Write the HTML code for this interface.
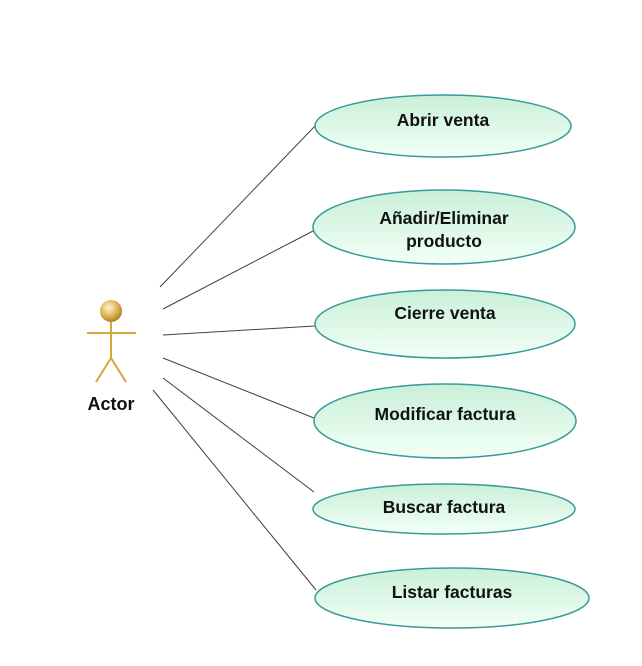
<!DOCTYPE html>
<html><head><style>body{margin:0;background:#fff}</style></head><body>
<svg width="642" height="661" xmlns="http://www.w3.org/2000/svg" font-family="Liberation Sans, sans-serif" font-weight="bold" font-size="17.5">
<defs>
<linearGradient id="g" x1="0" y1="0" x2="0" y2="1"><stop offset="0" stop-color="#c9f0d8"/><stop offset="1" stop-color="#f2fff6"/></linearGradient>
<radialGradient id="h" cx="0.4" cy="0.35" r="0.7"><stop offset="0" stop-color="#fff6d0"/><stop offset="0.6" stop-color="#d8b050"/><stop offset="1" stop-color="#a07820"/></radialGradient>
</defs>
<g stroke="#4a4030" stroke-width="1">
<line x1="160" y1="287" x2="315" y2="126"/>
<line x1="163" y1="309" x2="313" y2="231"/>
<line x1="163" y1="335" x2="315" y2="326"/>
<line x1="163" y1="358" x2="314" y2="418"/>
<line x1="163" y1="378" x2="314" y2="492"/>
<line x1="153" y1="390" x2="316" y2="590"/>
</g>
<g fill="url(#g)" stroke="#3a9a9a" stroke-width="1.5">
<ellipse cx="443" cy="126" rx="128" ry="31"/>
<ellipse cx="444" cy="227" rx="131" ry="37"/>
<ellipse cx="445" cy="324" rx="130" ry="34"/>
<ellipse cx="445" cy="421" rx="131" ry="37"/>
<ellipse cx="444" cy="509" rx="131" ry="25"/>
<ellipse cx="452" cy="598" rx="137" ry="30"/>
</g>
<g fill="#111" text-anchor="middle">
<text x="443" y="126">Abrir venta</text>
<text x="444" y="224">Añadir/Eliminar</text>
<text x="444" y="247">producto</text>
<text x="445" y="319">Cierre venta</text>
<text x="445" y="420">Modificar factura</text>
<text x="444" y="513">Buscar factura</text>
<text x="452" y="598">Listar facturas</text>
<text x="111" y="410" font-size="18">Actor</text>
</g>
<g stroke="#d4a838" stroke-width="2" fill="none">
<line x1="111" y1="322" x2="111" y2="358"/>
<line x1="87" y1="333" x2="136" y2="333"/>
<line x1="111" y1="358" x2="96" y2="382"/>
<line x1="111" y1="358" x2="126" y2="382"/>
</g>
<circle cx="111" cy="311" r="11" fill="url(#h)"/>
</svg>
</body></html>
